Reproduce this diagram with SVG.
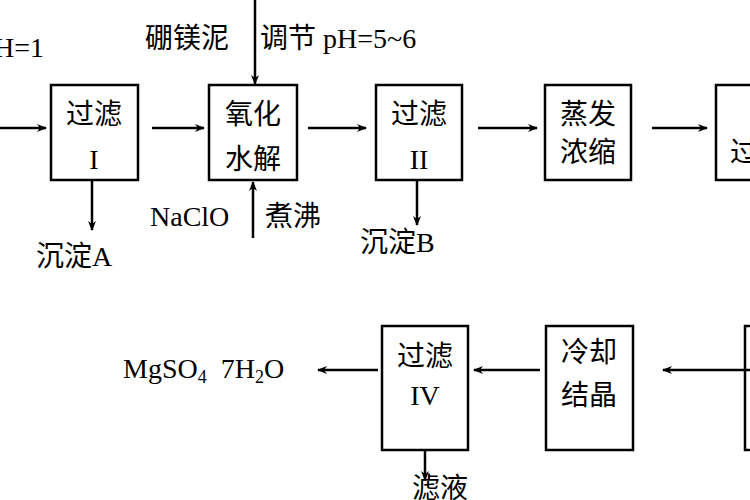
<svg xmlns="http://www.w3.org/2000/svg" width="750" height="500" viewBox="0 0 750 500">
<defs><marker id="a" markerWidth="10" markerHeight="8" refX="9" refY="4" orient="auto" markerUnits="userSpaceOnUse"><path d="M0,0 L10,4 L0,8 L3,4Z" fill="#000"/></marker></defs>
<style>
.b{fill:#fff;stroke:#000;stroke-width:2.5}
text{font-family:"Liberation Serif","Noto Sans CJK SC",serif;font-size:28px;fill:#000}
.c{text-anchor:middle}
line{stroke:#000;stroke-width:2.5;marker-end:url(#a)}
</style>
<rect width="750" height="500" fill="#fff"/>
<g id="n1"><rect class="b" x="51" y="85" width="87" height="95"/><text class="c" x="94" y="124">过滤</text><text class="c" x="94" y="169">I</text></g>
<g id="n2"><rect class="b" x="209" y="85" width="88" height="95"/><text class="c" x="253" y="124">氧化</text><text class="c" x="253" y="169">水解</text></g>
<g id="n3"><rect class="b" x="376" y="85" width="86" height="95"/><text class="c" x="419" y="124">过滤</text><text class="c" x="419" y="169">II</text></g>
<g id="n4"><rect class="b" x="545" y="85" width="86" height="95"/><text class="c" x="588" y="124">蒸发</text><text class="c" x="588" y="162">浓缩</text></g>
<g id="n5"><rect class="b" x="716" y="85" width="86" height="95"/><text x="730" y="162">过</text></g>
<g id="n6"><rect class="b" x="382" y="326" width="86" height="124"/><text class="c" x="425" y="366">过滤</text><text class="c" x="425" y="405">IV</text></g>
<g id="n7"><rect class="b" x="546" y="326" width="87" height="124"/><text class="c" x="589" y="362">冷却</text><text class="c" x="589" y="405">结晶</text></g>
<g id="n8"><rect class="b" x="745" y="326" width="40" height="124"/></g>
<g id="connectors">
<line x1="0" y1="128" x2="46" y2="128"/>
<line x1="152" y1="128" x2="204" y2="128"/>
<line x1="308" y1="128" x2="366" y2="128"/>
<line x1="478" y1="128" x2="537" y2="128"/>
<line x1="652" y1="128" x2="707" y2="128"/>
<line x1="255" y1="0" x2="255" y2="84"/>
<line x1="253" y1="238" x2="253" y2="182"/>
<line x1="92" y1="180" x2="92" y2="230"/>
<line x1="417" y1="180" x2="417" y2="225"/>
<line x1="750" y1="370" x2="663" y2="370"/>
<line x1="540" y1="370" x2="474" y2="370"/>
<line x1="378" y1="370" x2="318" y2="370"/>
<line x1="425" y1="450" x2="425" y2="480"/>
</g>
<text x="-6" y="57">H=1</text>
<text x="145" y="48">硼镁泥</text>
<text x="260" y="48">调节 pH=5~6</text>
<text x="150" y="226">NaClO</text>
<text x="265" y="226">煮沸</text>
<text x="36" y="266">沉淀A</text>
<text x="360" y="252">沉淀B</text>
<text x="123" y="378">MgSO<tspan font-size="18" dy="5">4</tspan><tspan dy="-5" xml:space="preserve">  7H</tspan><tspan font-size="18" dy="5">2</tspan><tspan dy="-5">O</tspan></text>
<text x="412" y="498">滤液</text>
</svg>
